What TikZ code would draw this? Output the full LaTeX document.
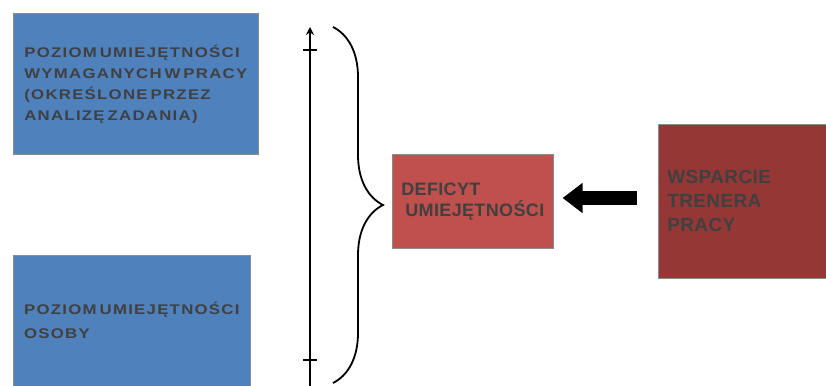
\documentclass[tikz,border=0pt]{standalone}
\usepackage{fontspec}
\setmainfont{Liberation Sans}
\newfontfamily\wideface{Liberation Sans Bold}[FakeStretch=1.2,LetterSpace=9,WordSpace=0.5]
\newfontfamily\boldface{Liberation Sans Bold}[LetterSpace=2]
\usepackage{tikz}
\usetikzlibrary{positioning, calc}
\usetikzlibrary{arrows.meta}
\usetikzlibrary{decorations.pathreplacing}
\definecolor{skillblue}{RGB}{79,129,189}
\definecolor{gapred}{RGB}{192,80,77}
\definecolor{coachred}{RGB}{149,55,53}
\definecolor{labelgrey}{RGB}{64,64,64}

\begin{document}
\begin{tikzpicture}[x=1pt,y=-1pt]
	\def \boxline{0.6pt}
	\tikzstyle{s-box}=[rectangle,draw=black!45,line width=\boxline,anchor=north west,inner sep=0pt,text=labelgrey,align=left]
	\tikzstyle{blue-box}=[s-box,fill=skillblue,font=\wideface\fontsize{14}{21}\selectfont]
	\tikzstyle{red-box}=[s-box,font=\boldface\fontsize{18}{21}\selectfont]
	\tikzstyle{scale-line}=[line width=1.4pt,draw=black]
	\useasboundingbox (0,0) rectangle (826,385);

	% skill levels
	\node[blue-box,minimum width=245pt,minimum height=141pt] (job) at (13,13)
		{POZIOM UMIEJĘTNOŚCI\\WYMAGANYCH W PRACY\\(OKREŚLONE PRZEZ\\ANALIZĘ ZADANIA)};
	\node[blue-box,minimum width=237pt,minimum height=131pt] (person) at (13,255)
		{POZIOM UMIEJĘTNOŚCI\\[3pt]OSOBY};

	% gap and support
	\node[red-box,fill=gapred,minimum width=161pt,minimum height=94pt] (gap) at (392,154)
		{DEFICYT\\\hspace{4pt}UMIEJĘTNOŚCI};
	\node[red-box,fill=coachred,minimum width=170pt,minimum height=154pt,text width=152pt,
		font=\boldface\fontsize{19}{24}\selectfont] (coach) at (658,124)
		{WSPARCIE\\TRENERA\\PRACY};

	% scale
	\coordinate (scale-top) at (310,27);
	\coordinate (scale-bot) at (310,386);
	\coordinate (tick-hi) at (310,50);
	\coordinate (tick-lo) at (310,360);
	\draw[scale-line,-{Stealth[length=8pt,width=8pt]}] (scale-bot) -- (scale-top);
	\draw[scale-line] ([xshift=-7pt]tick-hi) -- ([xshift=7pt]tick-hi);
	\draw[scale-line] ([xshift=-7pt]tick-lo) -- ([xshift=7pt]tick-lo);

	% brace
	\coordinate (brace-top) at (333,27);
	\coordinate (brace-bot) at (333,383);
	\draw[line width=1.8pt,decorate,decoration={brace,amplitude=50pt}] (brace-top) -- (brace-bot);

	% support arrow
	\draw[line width=14pt,-{Triangle[length=20pt,width=29pt]},shorten <=21pt,shorten >=9pt]
		(coach.west |- 0,198) -- (gap.east |- 0,198);
\end{tikzpicture}
\end{document}
